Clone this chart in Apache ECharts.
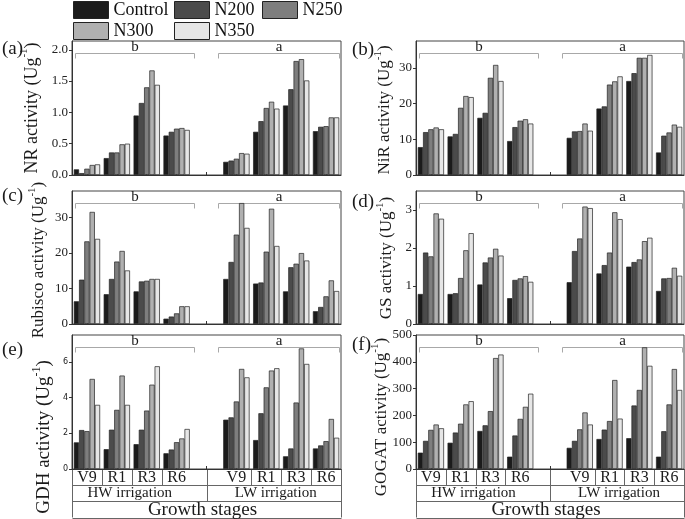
<!DOCTYPE html>
<html><head><meta charset="utf-8">
<script src="https://cdn.jsdelivr.net/npm/echarts@6/dist/echarts.min.js"></script>
<style>html,body{margin:0;padding:0;background:#fff}#c{width:685px;height:519px}</style>
</head><body><div id="c"></div>
<script>
// ---------- data ----------
const categories = ['V9','R1','R3','R6','','V9','R1','R3','R6'];
const treatments = ['Control','N200','N250','N300','N350'];
const irrigation = ['HW irrigation','LW irrigation'];
const groupLetters = ['b','a'];
const axisTitle = 'Growth stages';
// each row: HW V9,R1,R3,R6, LW V9,R1,R3,R6
const NR = [
 [0.09,0.27,0.95,0.63, 0.21,0.69,1.11,0.70],
 [0.03,0.36,1.15,0.69, 0.23,0.86,1.37,0.77],
 [0.10,0.36,1.40,0.74, 0.26,1.07,1.82,0.78],
 [0.16,0.49,1.67,0.75, 0.35,1.17,1.85,0.92],
 [0.17,0.50,1.44,0.72, 0.34,1.06,1.51,0.92]
];
const NiR = [
 [7.8,10.8,16.0,9.5, 10.4,18.6,26.3,6.3],
 [12.0,11.5,17.4,13.4, 12.2,19.2,28.5,11.0],
 [12.8,18.8,27.2,15.2, 12.3,25.3,32.8,11.9],
 [13.3,22.1,30.8,15.6, 14.4,26.2,32.8,14.1],
 [12.8,21.8,26.3,14.4, 12.4,27.6,33.6,13.5]
];
const Rubisco = [
 [6.4,8.4,9.2,1.5, 12.7,11.4,9.2,3.6],
 [12.5,12.7,12.0,2.1, 17.5,11.7,16.0,4.8],
 [23.3,17.6,12.2,3.0, 25.2,20.4,17.0,7.8],
 [31.6,20.6,12.7,5.0, 34.1,32.5,20.0,12.3],
 [24.0,15.1,12.7,5.0, 27.1,22.0,17.9,9.3]
];
const GS = [
 [0.79,0.79,1.04,0.68, 1.10,1.33,1.51,0.87],
 [1.88,0.81,1.62,1.16, 1.92,1.55,1.63,1.20],
 [1.78,1.21,1.75,1.20, 2.25,1.88,1.70,1.21],
 [2.91,1.94,1.98,1.26, 3.09,2.94,2.18,1.48],
 [2.77,2.39,1.80,1.11, 3.05,2.76,2.27,1.27]
];
const GDH = [
 [1.49,1.11,1.39,0.88, 2.76,1.62,0.71,1.15],
 [2.18,2.20,2.20,1.09, 2.89,3.12,1.15,1.32],
 [2.12,3.31,3.27,1.50, 3.78,4.57,3.72,1.56],
 [5.04,5.23,4.72,1.71, 5.60,5.51,6.75,2.80],
 [3.59,3.59,5.75,2.24, 5.13,5.64,5.88,1.75]
];
const GOGAT = [
 [61,98,142,46, 79,112,115,46],
 [105,136,163,125, 105,147,237,141],
 [146,169,216,187, 148,179,295,241],
 [166,241,414,232, 211,332,454,373],
 [152,253,427,281, 166,188,385,295]
];
const panelNames = ['NR','NiR','Rubisco','GS','GDH','GOGAT'];
const panelLetters = ['(a)','(b)','(c)','(d)','(e)','(f)'];
const panelData = [NR, NiR, Rubisco, GS, GDH, GOGAT];
const yMax = [2.14, 37.5, 37.5, 3.5, 7.5, 500];
const yInterval = [0.5, 10, 10, 1, 2, 100];

// ---------- styles / layout ----------
const SERIF = 'Liberation Serif';
const colors = ['#1b1b1b','#4b4b4b','#7e7e7e','#b0b0b0','#e6e6e6'];
const grids = [
 {left:72, top:41, width:269, height:134},
 {left:416, top:41, width:268, height:134},
 {left:72, top:191, width:269, height:133},
 {left:416, top:191, width:268, height:133},
 {left:72, top:335, width:269, height:134},
 {left:416, top:335, width:268, height:134}
];
const nameCenters = [[30,108,18],[383,110,17],[37,260,17],[385,258,17],[42,437,19],[380,417,17]];
const letterPos = [[2,49],[352,50],[2,196],[352,202],[2,350],[352,345]];
const legendPos = [[73,1],[174,1],[262,1],[73,22],[174,22]];

function withGap(arr){ return arr.slice(0,4).concat([null]).concat(arr.slice(4)); }

const chart = echarts.init(document.getElementById('c'), null, {renderer:'canvas'});
const xAxes = [], yAxes = [], series = [];
grids.forEach((g, i) => {
  xAxes.push({
    type:'category', gridIndex:i, data:categories, boundaryGap:true,
    axisLine:{lineStyle:{color:'#333', width:1}},
    axisTick:{show:true, inside:true, alignWithLabel:true, length:3, lineStyle:{color:'#333'}},
    axisLabel:{show:false}, splitLine:{show:false}
  });
  yAxes.push({
    type:'value', gridIndex:i, min:0, max:yMax[i], interval:yInterval[i],
    axisLine:{show:true, lineStyle:{color:'#333', width:1}},
    axisTick:{show:true, inside:false, length:3, lineStyle:{color:'#333'}},
    splitLine:{show:false},
    axisLabel:{
      show:true, margin:4, color:'#222',
      fontFamily: i===4 ? 'DejaVu Sans' : SERIF,
      fontSize: i===4 ? 8 : 13,
      showMaxLabel: i===5,
      formatter: i===0 ? (v => v.toFixed(1)) : (v => String(v))
    }
  });
  panelData[i].forEach((vals, k) => {
    series.push({
      type:'bar', name:treatments[k], xAxisIndex:i, yAxisIndex:i,
      data: withGap(vals), barGap:'0%', barCategoryGap:'12%',
      itemStyle:{color:colors[k], borderColor:'#222', borderWidth:0.7},
      emphasis:{disabled:true}, animation:false
    });
  });
});

const legends = treatments.map((t, k) => ({
  data:[t], left:legendPos[k][0], top:legendPos[k][1], padding:0,
  itemWidth:35, itemHeight:17, icon:'rect', selectedMode:false,
  itemStyle:{borderColor:'#222', borderWidth:1},
  textStyle:{fontFamily:SERIF, fontSize:18, color:'#111'}
}));

chart.setOption({
  animation:false,
  backgroundColor:'#fff',
  textStyle:{fontFamily:SERIF},
  grid: grids.map(g => Object.assign({show:true, borderColor:'#444', borderWidth:1, backgroundColor:'transparent'}, g)),
  xAxis:xAxes, yAxis:yAxes, series:series, legend:legends
});

// ---------- decorations computed from axis pixels ----------
const els = [];
const cr = v => Math.round(v) + 0.5;
function line(x1,y1,x2,y2,color,w){
  els.push({type:'line', silent:true, shape:{x1:x1,y1:y1,x2:x2,y2:y2}, style:{stroke:color, lineWidth:w||1}});
}
function text(x,y,t,size,align,va){
  els.push({type:'text', silent:true, x:x, y:y,
    style:{text:t, fontFamily:SERIF, fontSize:size, fill:'#1a1a1a', align:align||'center', verticalAlign:va||'middle'}});
}
grids.forEach((g, i) => {
  const px = idx => chart.convertToPixel({xAxisIndex:i}, idx);
  const w = px(1) - px(0);
  const s0 = px(0) - w/2, e3 = px(3) + w/2, s5 = px(5) - w/2, e8 = px(8) + w/2;
  const by = cr(g.top + 12);
  const brackets = [[s0+2.5, e3+2.5], [s5-3, e8-2]];
  brackets.forEach((b, j) => {
    const x1 = cr(b[0]), x2 = cr(b[1]);
    els.push({type:'polyline', silent:true, shape:{points:[[x1,by+5],[x1,by],[x2,by],[x2,by+5]]},
      style:{stroke:'#a8a8a8', lineWidth:1, fill:null}});
    text((x1+x2)/2, by+1, groupLetters[j], 15, 'center', 'bottom');
  });
  text(letterPos[i][0], letterPos[i][1], panelLetters[i], 19, 'left', 'middle');
  const nc = nameCenters[i];
  els.push({type:'text', silent:true, x:nc[0], y:nc[1], rotation:Math.PI/2,
    style:{
      text:'{n|' + panelNames[i] + ' activity (Ug}{s|-1}{n|)}',
      align:'center', verticalAlign:'middle',
      rich:{
        n:{fontFamily:SERIF, fontSize:nc[2], fill:'#1a1a1a', lineHeight:nc[2]+4, verticalAlign:'bottom'},
        s:{fontFamily:SERIF, fontSize:Math.round(nc[2]*0.62), fill:'#1a1a1a', verticalAlign:'top', lineHeight:nc[2]+4}
      }
    }});
  if (i >= 4) {
    const yb = g.top + g.height, r1 = yb + 15.5, r2 = r1 + 16, r3 = r2 + 17;
    const L = cr(s0), R = cr(e8), mid = cr(px(4));
    const col = '#666';
    line(L, yb, L, r3, col); line(R, yb, R, r3, col);
    line(L, cr(r1), R, cr(r1), col); line(L, cr(r2), R, cr(r2), col); line(L, cr(r3), R, cr(r3), col);
    [0,1,2,5,6,7].forEach(k => { const x = cr(px(k) + w/2); line(x, yb, x, cr(r1), col); });
    line(mid, yb, mid, cr(r2), col);
    categories.forEach((c, k) => { if (c) text(px(k), (yb + r1)/2 + 1, c, 16); });
    text((s0 + e3)/2 - 2, (r1 + r2)/2 + 1, irrigation[0], 15);
    text((px(4) + e8)/2 + 2, (r1 + r2)/2 + 1, irrigation[1], 15);
    text((s0 + e8)/2 - 4, (r2 + r3)/2 + 1, axisTitle, 19);
  }
});
chart.setOption({graphic:{elements:els}});
</script>
</body></html>
